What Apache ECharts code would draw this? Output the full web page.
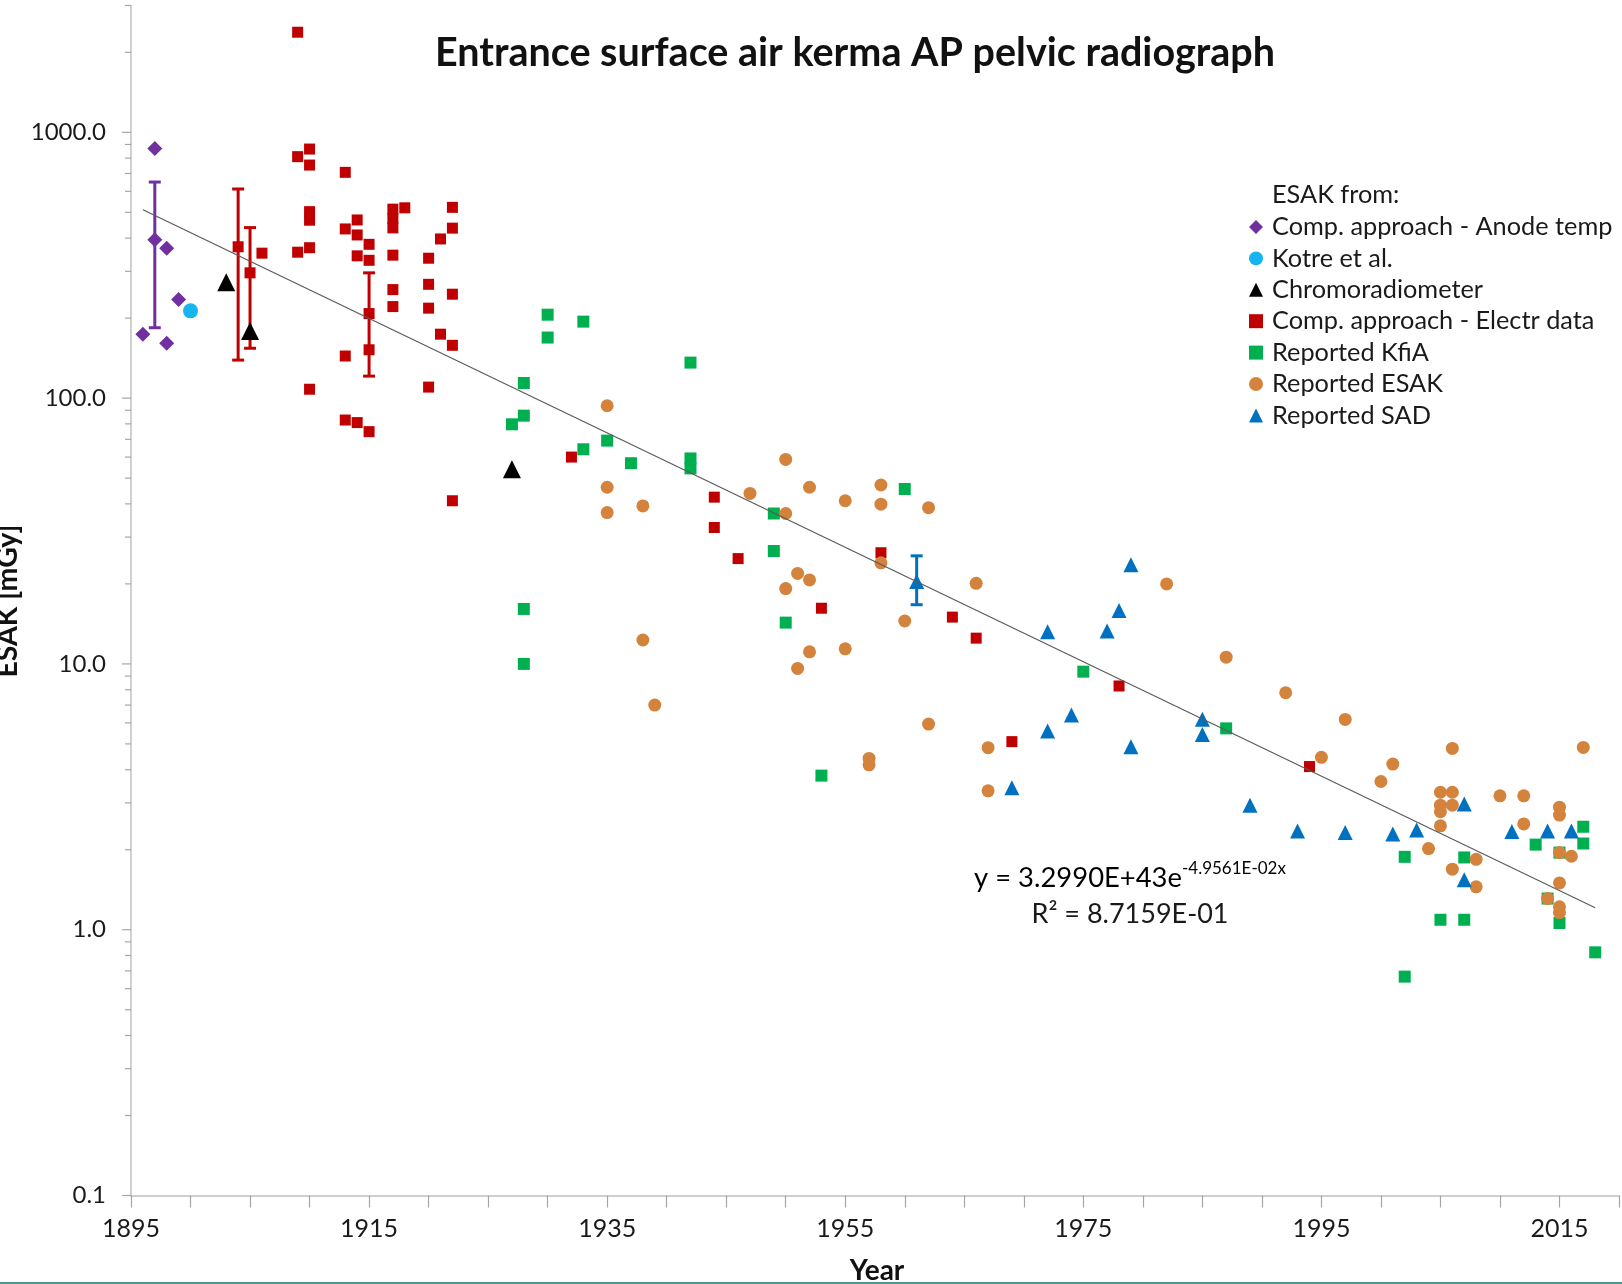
<!DOCTYPE html>
<html><head><meta charset="utf-8">
<script src="https://cdn.jsdelivr.net/npm/echarts@6/dist/echarts.min.js"></script>
<style>html,body{margin:0;padding:0;background:#fff}#c{width:1622px;height:1284px}</style>
</head><body><div id="c"></div>
<script>
// ---------- data ----------
const anodeYears  = [1896, 1897, 1897, 1898, 1899, 1898];
const anodeValues = [174, 870, 394, 366, 235, 161];

const kotreYears  = [1900];
const kotreValues = [213];

const chromoYears  = [1903, 1905, 1927];
const chromoValues = [273, 179, 54];

const electrYears  = [1904,1905,1906,1909,1909,1909,1910,1910,1910,1910,1910,1910,1913,1913,1913,1913,1914,1914,1914,1914,1915,1915,1915,1915,1915,1917,1917,1917,1917,1917,1917,1918,1920,1920,1920,1920,1921,1921,1922,1922,1922,1922,1922,1932,1944,1944,1946,1953,1958,1964,1966,1969,1978,1994];
const electrValues = [371,296,351,2380,810,354,865,753,503,467,368,108,707,433,144,82.7,468,411,343,80.9,379,330,208,152,74.8,514,474,437,345,256,221,520,336,268,218,110,397,174,522,436,246,158,41.1,60,42.4,32.6,24.9,16.2,26.2,15.0,12.5,5.1,8.26,4.11];

const kfiaYears  = [1927,1928,1928,1928,1928,1930,1930,1933,1933,1935,1937,1942,1942,1942,1949,1949,1950,1953,1960,1975,1987,2002,2002,2005,2007,2007,2013,2014,2015,2015,2017,2017,2018];
const kfiaValues = [79.7,114,85.9,16.1,10.0,206,169,194,64.2,69.2,56.9,136,59.3,54.4,36.8,26.6,14.3,3.80,45.5,9.35,5.72,1.88,0.666,1.09,1.87,1.09,2.09,1.31,1.95,1.06,2.44,2.11,0.822];

const esakYears  = [1935,1935,1935,1938,1938,1939,1947,1950,1950,1950,1951,1951,1952,1952,1952,1955,1955,1957,1957,1958,1958,1958,1960,1962,1962,1966,1967,1967,1982,1987,1992,1995,1997,2000,2001,2004,2005,2005,2005,2005,2006,2006,2006,2006,2008,2008,2010,2012,2012,2014,2015,2015,2015,2015,2015,2015,2016,2017];
const esakValues = [93.6,46.2,37.1,39.3,12.3,7.00,43.8,58.8,36.8,19.2,21.9,9.62,46.2,20.7,11.1,41.1,11.4,4.41,4.17,47.1,39.9,24.0,14.5,38.7,5.94,20.1,4.84,3.33,20.0,10.6,7.79,4.45,6.18,3.61,4.20,2.02,3.29,2.94,2.78,2.46,4.81,3.29,2.94,1.69,1.84,1.45,3.19,3.19,2.50,1.31,2.89,2.70,1.95,1.50,1.22,1.16,1.89,4.85];

const sadYears  = [1961,1969,1972,1972,1974,1977,1978,1979,1979,1985,1985,1989,1993,1997,2001,2003,2007,2007,2011,2014,2016];
const sadValues = [20.4,3.42,13.2,5.59,6.42,13.3,15.9,23.6,4.88,6.19,5.43,2.94,2.35,2.32,2.29,2.37,2.97,1.54,2.34,2.35,2.35];

// error bars (year, low, high)
const anodeErrYears = [1897];             const anodeErrLow = [184];            const anodeErrHigh = [650];
const electrErrYears = [1904, 1905, 1915]; const electrErrLow = [139, 154, 121]; const electrErrHigh = [612, 438, 296];
const sadErrYears = [1961];               const sadErrLow = [16.7];             const sadErrHigh = [25.5];

// trendline endpoints
const trendYears  = [1896, 2018];
const trendValues = [511, 1.21];

// axis ticks / labels
const xTickLabels = ['1895', '1915', '1935', '1955', '1975', '1995', '2015'];
const yTickLabels = ['0.1', '1.0', '10.0', '100.0', '1000.0'];
const yMajorTicks = [0.1, 1, 10, 100, 1000];
const yMinorTicks = [0.2,0.3,0.4,0.5,0.6,0.7,0.8,0.9,2,3,4,5,6,7,8,9,20,30,40,50,60,70,80,90,200,300,400,500,600,700,800,900,2000,3000];

const seriesNames = ['Comp. approach - Anode temp', 'Kotre et al.', 'Chromoradiometer', 'Comp. approach - Electr data', 'Reported KfiA', 'Reported ESAK', 'Reported SAD'];

// ---------- helpers ----------
const zip = (a, b) => a.map((v, i) => [v, b[i]]);
const zip3 = (a, b, c) => a.map((v, i) => [v, b[i], c[i]]);
const FONT = 'Lato';

function errRender(color) {
  return function (params, api) {
    const x = api.value(0), lo = api.value(1), hi = api.value(2);
    const pLo = api.coord([x, lo]), pHi = api.coord([x, hi]);
    const hw = 6, st = { stroke: color, lineWidth: 3 };
    return { type: 'group', children: [
      { type: 'line', shape: { x1: pLo[0], y1: pLo[1], x2: pHi[0], y2: pHi[1] }, style: st },
      { type: 'line', shape: { x1: pLo[0] - hw, y1: pLo[1], x2: pLo[0] + hw, y2: pLo[1] }, style: st },
      { type: 'line', shape: { x1: pHi[0] - hw, y1: pHi[1], x2: pHi[0] + hw, y2: pHi[1] }, style: st }
    ]};
  };
}
function tickRender(len) {
  return function (params, api) {
    const p = api.coord([api.value(0), api.value(1)]);
    return { type: 'line', shape: { x1: p[0] - len, y1: p[1], x2: p[0], y2: p[1] }, style: { stroke: '#a6a6a6', lineWidth: 1.2 } };
  };
}
function scatter(name, symbol, size, color, z, data) {
  return { name, type: 'scatter', z, symbol, symbolSize: size, itemStyle: { color, opacity: 1 }, data };
}

const chart = echarts.init(document.getElementById('c'), null, { renderer: 'canvas' });
const option = {
  backgroundColor: '#ffffff',
  animation: false,
  grid: { left: 131, right: 0, top: 5.5, bottom: 88.5, containLabel: false },
  xAxis: {
    type: 'value', min: 1895, max: 2020, interval: 5,
    axisLine: { show: true, lineStyle: { color: '#c0c0c0', width: 1.5 } },
    axisTick: { show: true, length: 12, lineStyle: { color: '#a6a6a6', width: 1.2 } },
    splitLine: { show: false },
    axisLabel: {
      margin: 21, fontFamily: FONT, fontSize: 25, color: '#1a1a1a',
      formatter: v => xTickLabels.includes(String(Math.round(v))) ? String(Math.round(v)) : ''
    }
  },
  yAxis: {
    type: 'log', logBase: 10, min: 0.1, max: 3000,
    axisLine: { show: true, lineStyle: { color: '#c0c0c0', width: 1.5 } },
    axisTick: { show: false },
    splitLine: { show: false },
    axisLabel: {
      margin: 25, fontFamily: FONT, fontSize: 24, color: '#1a1a1a',
      formatter: v => {
        const e = Math.log10(v), r = Math.round(e);
        if (Math.abs(e - r) > 1e-6) return '';
        const idx = r + 1;
        return (idx >= 0 && idx < yTickLabels.length) ? yTickLabels[idx] : '';
      }
    }
  },
  legend: {
    orient: 'vertical', left: 1244, top: 209.5,
    itemWidth: 14, itemHeight: 14, itemGap: 6.4,
    data: seriesNames,
    textStyle: { fontFamily: FONT, fontSize: 25.3, color: '#1a1a1a', lineHeight: 24, padding: [0, 0, 0, 4] }
  },
  graphic: [
    { type: 'text', x: 855, y: 53, style: { text: 'Entrance surface air kerma AP pelvic radiograph', fontFamily: FONT, fontWeight: 'bold', fontSize: 39.5, fill: '#111', textAlign: 'center', textVerticalAlign: 'middle' } },
    { type: 'text', x: 1272, y: 195, style: { text: 'ESAK from:', fontFamily: FONT, fontSize: 25.3, fill: '#1a1a1a', textAlign: 'left', textVerticalAlign: 'middle' } },
    { type: 'text', x: 8, y: 601, rotation: Math.PI / 2, style: { text: 'ESAK [mGy]', fontFamily: FONT, fontWeight: 'bold', fontSize: 28.5, fill: '#111', textAlign: 'center', textVerticalAlign: 'middle' } },
    { type: 'text', x: 877, y: 1271, style: { text: 'Year', fontFamily: FONT, fontWeight: 'bold', fontSize: 28, fill: '#111', textAlign: 'center', textVerticalAlign: 'middle' } },
    { type: 'text', x: 1130, y: 878, style: { text: '{a|y = 3.2990E+43e}{b|-4.9561E-02x}', textAlign: 'center', textVerticalAlign: 'middle',
        rich: { a: { fontFamily: FONT, fontSize: 27.4, color: '#1a1a1a' }, b: { fontFamily: FONT, fontSize: 17, color: '#1a1a1a', padding: [0, 0, 19, 0] } } } },
    { type: 'text', x: 1130, y: 914, style: { text: 'R\u00b2 = 8.7159E-01', fontFamily: FONT, fontSize: 27, fill: '#1a1a1a', textAlign: 'center', textVerticalAlign: 'middle' } },
    { type: 'rect', shape: { x: 0, y: 1282, width: 1622, height: 2 }, style: { fill: '#4d9a94' } }
  ],
  series: [
    { type: 'custom', silent: true, clip: false, z: 1, renderItem: tickRender(9), data: yMajorTicks.map(v => [1895, v]), encode: { x: 0, y: 1 } },
    { type: 'custom', silent: true, clip: false, z: 1, renderItem: tickRender(6), data: yMinorTicks.map(v => [1895, v]), encode: { x: 0, y: 1 } },
    scatter(seriesNames[0], 'diamond', 15, '#7030a0', 3, zip(anodeYears, anodeValues)),
    { type: 'custom', silent: true, z: 3, renderItem: errRender('#7030a0'), data: zip3(anodeErrYears, anodeErrLow, anodeErrHigh), encode: { x: 0, y: [1, 2] } },
    scatter(seriesNames[1], 'circle', 15, '#16b4f0', 3, zip(kotreYears, kotreValues)),
    scatter(seriesNames[3], 'rect', 11, '#c00000', 3, zip(electrYears, electrValues)),
    { type: 'custom', silent: true, z: 3, renderItem: errRender('#c00000'), data: zip3(electrErrYears, electrErrLow, electrErrHigh), encode: { x: 0, y: [1, 2] } },
    scatter(seriesNames[2], 'triangle', 18, '#000000', 4, zip(chromoYears, chromoValues)),
    scatter(seriesNames[4], 'rect', 12, '#00b050', 4, zip(kfiaYears, kfiaValues)),
    scatter(seriesNames[5], 'circle', 13, '#d3833b', 5, zip(esakYears, esakValues)),
    scatter(seriesNames[6], 'triangle', 15, '#0070c0', 6, zip(sadYears, sadValues)),
    { type: 'custom', silent: true, z: 6, renderItem: errRender('#0070c0'), data: zip3(sadErrYears, sadErrLow, sadErrHigh), encode: { x: 0, y: [1, 2] } },
    { type: 'line', silent: true, z: 7, symbol: 'none', lineStyle: { color: '#5a5a5a', width: 1.2 }, data: zip(trendYears, trendValues) }
  ]
};
chart.setOption(option);
</script>
</body></html>
